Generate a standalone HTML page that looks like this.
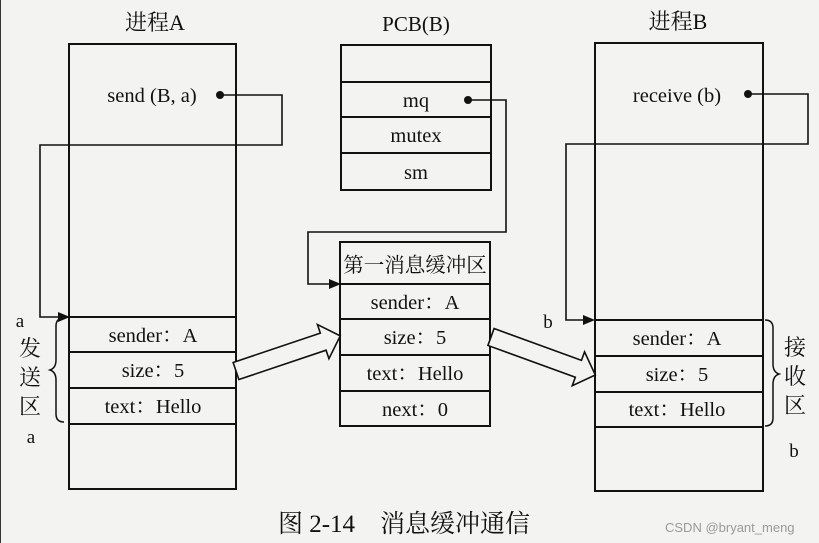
<!DOCTYPE html>
<html><head><meta charset="utf-8"><style>
html,body{margin:0;padding:0;background:#f3f3f1;}
svg{display:block;}
text{font-family:"Liberation Serif","Noto Serif CJK SC",serif;fill:#111;}
</style></head><body>
<svg width="819" height="543" viewBox="0 0 819 543" xmlns="http://www.w3.org/2000/svg">
<rect width="819" height="543" fill="#f3f3f1"/>
<line x1="0.5" y1="0" x2="0.5" y2="543" stroke="#333" stroke-width="1"/>
<g stroke="#111" stroke-width="2" fill="none">
<rect x="69" y="44" width="167" height="445"/>
<line x1="69" y1="317" x2="236" y2="317"/>
<line x1="69" y1="352" x2="236" y2="352"/>
<line x1="69" y1="388" x2="236" y2="388"/>
<line x1="69" y1="424" x2="236" y2="424"/>
<rect x="341" y="45" width="150" height="145"/>
<line x1="341" y1="82" x2="491" y2="82"/>
<line x1="341" y1="117" x2="491" y2="117"/>
<line x1="341" y1="153" x2="491" y2="153"/>
<rect x="340" y="242" width="150" height="184"/>
<line x1="340" y1="284" x2="490" y2="284"/>
<line x1="340" y1="319" x2="490" y2="319"/>
<line x1="340" y1="355" x2="490" y2="355"/>
<line x1="340" y1="391" x2="490" y2="391"/>
<rect x="595" y="43" width="168" height="448"/>
<line x1="595" y1="320" x2="763" y2="320"/>
<line x1="595" y1="356" x2="763" y2="356"/>
<line x1="595" y1="392" x2="763" y2="392"/>
<line x1="595" y1="427" x2="763" y2="427"/>
<polyline stroke-width="1.6" points="220,95 282,95 282,145 40,145 40,317 62,317"/>
<polyline stroke-width="1.6" points="468,100 506,100 506,232 308,232 308,284 332,284"/>
<polyline stroke-width="1.6" points="748,94 808,94 808,144 566,144 566,320 588,320"/>
<path stroke-width="1.5" d="M64,318 Q56,318 56,326 L56,360 Q56,368 50,370 Q56,372 56,380 L56,414 Q56,422 64,422"/>
<path stroke-width="1.5" d="M765,320 Q773,320 773,328 L773,364 Q773,372 779,374 Q773,376 773,384 L773,418 Q773,426 765,426"/>
<polygon stroke-width="1.6" fill="#f3f3f1" transform="translate(236,371) rotate(-18.6)" points="0,-9 92,-9 92,-18 110,0 92,18 92,9 0,9"/>
<polygon stroke-width="1.6" fill="#f3f3f1" transform="translate(491,337) rotate(20)" points="0,-9 93,-9 93,-18 111,0 93,18 93,9 0,9"/>
</g>
<g fill="#111">
<circle cx="220" cy="95" r="4"/>
<circle cx="468" cy="100" r="4"/>
<circle cx="748" cy="94" r="4"/>
<polygon points="70,317 58,312 58,322"/>
<polygon points="341,284 329,279 329,289"/>
<polygon points="595,320 583,315 583,325"/>
</g>
<g font-size="20.5" text-anchor="middle">
<text x="155" y="30" font-size="22">进程A</text>
<text x="416" y="31" font-size="21">PCB(B)</text>
<text x="678" y="29" font-size="22">进程B</text>
<text x="152" y="102">send (B, a)</text>
<text x="416" y="107">mq</text>
<text x="416" y="142">mutex</text>
<text x="416" y="179">sm</text>
<text x="415" y="272">第一消息缓冲区</text>
<text x="415" y="309">sender：A</text>
<text x="415" y="344">size：5</text>
<text x="415" y="380">text：Hello</text>
<text x="415" y="416">next：0</text>
<text x="153" y="342">sender：A</text>
<text x="153" y="377">size：5</text>
<text x="153" y="413">text：Hello</text>
<text x="677" y="102">receive (b)</text>
<text x="677" y="345">sender：A</text>
<text x="677" y="381">size：5</text>
<text x="677" y="416">text：Hello</text>
<text x="20" y="327" font-size="19">a</text>
<text x="31" y="443" font-size="19">a</text>
<text x="548" y="328" font-size="19">b</text>
<text x="794" y="457" font-size="19">b</text>
<text x="30" y="356" font-size="22">发</text>
<text x="30" y="385" font-size="22">送</text>
<text x="30" y="414" font-size="22">区</text>
<text x="795" y="355" font-size="22">接</text>
<text x="795" y="384" font-size="22">收</text>
<text x="795" y="413" font-size="22">区</text>
<text x="404" y="532" font-size="25">图 2-14　消息缓冲通信</text>
</g>
<text x="665" y="532" font-size="13" style="font-family:'Liberation Sans',sans-serif;fill:#9a9a9a">CSDN @bryant_meng</text>
</svg>
</body></html>
